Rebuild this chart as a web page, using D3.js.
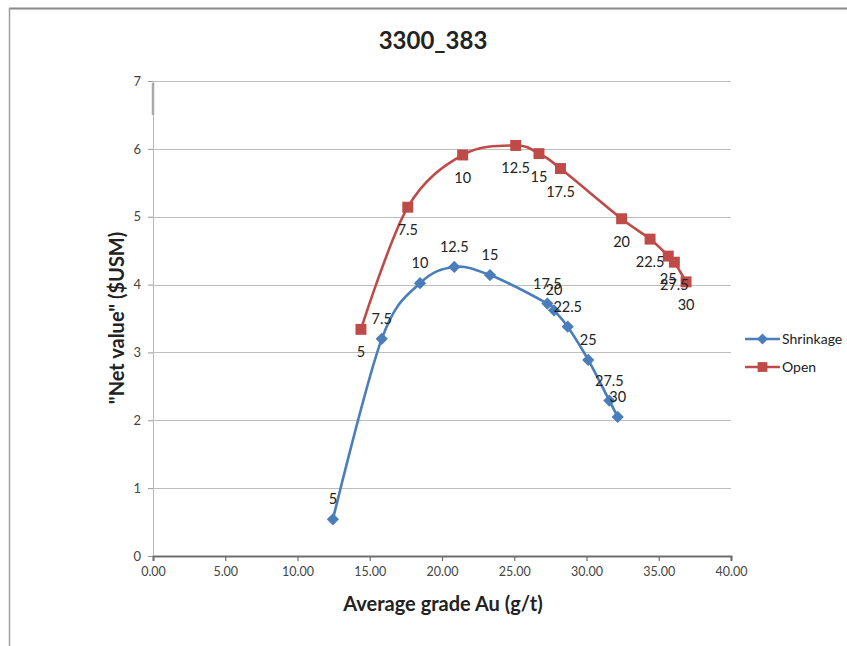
<!DOCTYPE html>
<html>
<head>
<meta charset="utf-8">
<script src="https://cdn.jsdelivr.net/npm/d3@7/dist/d3.min.js"></script>
<style>
  html, body { margin: 0; padding: 0; background: #fff; }
  svg { display: block; font-family: Lato, "Open Sans", sans-serif; }
</style>
</head>
<body>
<svg id="chart" width="847" height="646"></svg>
<script>
// Average grade (g/t) and net value ($USM) per cut-off, for each mining method
const shrinkGrade = [12.45, 15.83, 18.48, 20.85, 23.32, 27.29, 27.75, 28.70, 30.12, 31.58, 32.16];
const shrinkValue = [0.54, 3.20, 4.02, 4.26, 4.14, 3.72, 3.62, 3.38, 2.89, 2.29, 2.05];
const openGrade = [14.39, 17.63, 21.43, 25.10, 26.71, 28.20, 32.43, 34.40, 35.66, 36.08, 36.89];
const openValue = [3.34, 5.14, 5.91, 6.05, 5.93, 5.71, 4.97, 4.67, 4.42, 4.33, 4.04];
const cutoffLabels = ["5", "7.5", "10", "12.5", "15", "17.5", "20", "22.5", "25", "27.5", "30"];
const xTicks = [0, 5, 10, 15, 20, 25, 30, 35, 40];
const yTicks = [0, 1, 2, 3, 4, 5, 6, 7];
const seriesNames = ["Shrinkage", "Open"];
const seriesColors = ["#4A7EBB", "#BE4B48"];

const svg = d3.select("#chart");

// frame around the chart object
svg.append("line").attr("x1", 9).attr("x2", 847).attr("y1", 8.5).attr("y2", 8.5)
  .attr("stroke", "#8a8a8a").attr("stroke-width", 2);
svg.append("line").attr("x1", 9.5).attr("x2", 9.5).attr("y1", 8).attr("y2", 646)
  .attr("stroke", "#a0a0a0").attr("stroke-width", 1.5);

const x = d3.scaleLinear().domain([0, 40]).range([153, 731]);
const y = d3.scaleLinear().domain([0, 7]).range([556, 81]);

// horizontal gridlines
svg.append("g").selectAll("line").data(yTicks.filter(d => d > 0)).join("line")
  .attr("x1", x(0)).attr("x2", x(40))
  .attr("y1", d => Math.round(y(d)) + 0.5).attr("y2", d => Math.round(y(d)) + 0.5)
  .attr("stroke", "#bdbdbd").attr("stroke-width", 1);

// y axis
const yAxis = svg.append("g").attr("transform", `translate(${x(0)},0)`)
  .call(d3.axisLeft(y).tickValues(yTicks).tickFormat(d3.format("d")).tickSize(5).tickPadding(7));
yAxis.select(".domain").attr("stroke", "#b8b8b8").attr("stroke-width", 1);
yAxis.selectAll(".tick line").attr("stroke", "#999");
yAxis.selectAll(".tick text").attr("font-size", 13).attr("fill", "#444")
  .attr("font-family", "Lato, sans-serif");
svg.append("line").attr("x1", x(0)).attr("x2", x(0)).attr("y1", 83).attr("y2", 115)
  .attr("stroke", "#a8a8a8").attr("stroke-width", 2.5);

// x axis
const xAxis = svg.append("g").attr("transform", `translate(0,${y(0)})`)
  .call(d3.axisBottom(x).tickValues(xTicks).tickFormat(d3.format(".2f")).tickSize(5).tickPadding(6));
xAxis.select(".domain").attr("stroke", "#6e6e6e").attr("stroke-width", 2);
xAxis.selectAll(".tick line").attr("stroke", "#6e6e6e").attr("stroke-width", 1.2);
xAxis.selectAll(".tick text").attr("font-size", 12.5).attr("fill", "#444")
  .attr("font-family", "Lato, sans-serif");

// titles
svg.append("text").attr("x", 433).attr("y", 49).attr("text-anchor", "middle")
  .attr("font-size", 24).attr("font-weight", "bold").attr("fill", "#222").text("3300_383");
svg.append("text").attr("x", 443).attr("y", 611).attr("text-anchor", "middle")
  .attr("font-size", 20).attr("font-weight", "bold").attr("fill", "#222").text("Average grade Au (g/t)");
svg.append("text").attr("transform", "translate(124,318) rotate(-90)").attr("text-anchor", "middle")
  .attr("font-size", 20).attr("font-weight", "bold").attr("fill", "#222").text("\"Net value\" ($USM)");

const series = [
  { name: seriesNames[0], color: seriesColors[0], grade: shrinkGrade, value: shrinkValue, shape: d3.symbolSquare, size: 75, rot: 45, dy: -15 },
  { name: seriesNames[1], color: seriesColors[1], grade: openGrade, value: openValue, shape: d3.symbolSquare, size: 120, rot: 0, dy: 28 }
];

const line = d3.line().x(d => x(d[0])).y(d => y(d[1])).curve(d3.curveCatmullRom.alpha(0));

series.forEach(s => {
  const pts = s.grade.map((g, i) => [g, s.value[i], cutoffLabels[i]]);
  const g = svg.append("g");
  g.append("path").datum(pts).attr("d", line)
    .attr("fill", "none").attr("stroke", s.color).attr("stroke-width", 2.6);
  g.selectAll("path.m").data(pts).join("path").attr("class", "m")
    .attr("transform", d => `translate(${x(d[0])},${y(d[1])}) rotate(${s.rot})`)
    .attr("d", d3.symbol().type(s.shape).size(s.size))
    .attr("fill", s.color);
  g.selectAll("text").data(pts).join("text")
    .attr("x", d => x(d[0])).attr("y", d => y(d[1]) + s.dy)
    .attr("text-anchor", "middle").attr("font-size", 14.5).attr("fill", "#222")
    .text(d => d[2]);
});

// legend
series.forEach((s, i) => {
  const ly = 339 + i * 28;
  const lg = svg.append("g");
  lg.append("line").attr("x1", 745).attr("x2", 780).attr("y1", ly).attr("y2", ly)
    .attr("stroke", s.color).attr("stroke-width", 2.6);
  lg.append("path").attr("transform", `translate(762.5,${ly}) rotate(${s.rot})`)
    .attr("d", d3.symbol().type(s.shape).size(s.size * 0.8)).attr("fill", s.color);
  lg.append("text").attr("x", 782).attr("y", ly + 5).attr("font-size", 14).attr("fill", "#222")
    .text(s.name);
});
</script>
</body>
</html>
